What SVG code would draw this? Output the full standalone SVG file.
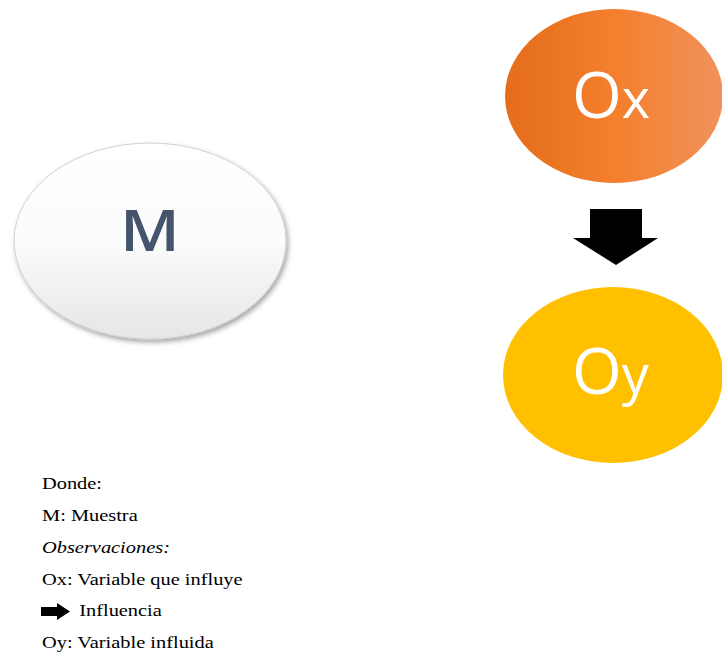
<svg xmlns="http://www.w3.org/2000/svg" width="722" height="652" viewBox="0 0 722 652">
<style>
.big{font-family:"Open Sans","DejaVu Sans",sans-serif}
.leg{font-family:"Liberation Serif","Times New Roman",serif;font-size:17px;fill:#000}
</style>
<defs>
<linearGradient id="gm" x1="0" y1="0" x2="0" y2="1">
<stop offset="0" stop-color="#ffffff"/>
<stop offset="0.5" stop-color="#fbfbfb"/>
<stop offset="1" stop-color="#e6e6e6"/>
</linearGradient>
<linearGradient id="gx" x1="0" y1="0" x2="1" y2="0">
<stop offset="0" stop-color="#e46c1c"/>
<stop offset="0.5" stop-color="#f47f2c"/>
<stop offset="1" stop-color="#f0925c"/>
</linearGradient>
<filter id="sh" x="-10%" y="-10%" width="125%" height="130%">
<feDropShadow dx="2" dy="3" stdDeviation="2.5" flood-color="#000" flood-opacity="0.35"/>
</filter>
</defs>
<g id="node-M">
<ellipse cx="150" cy="241" rx="136" ry="98" fill="url(#gm)" stroke="#d0d0d0" stroke-width="1" filter="url(#sh)"/>
<text class="big" x="150" y="251" font-size="58" font-weight="600" fill="#44546a" text-anchor="middle" transform="translate(150 0) scale(1.12 1) translate(-150 0)">M</text>
</g>
<g id="node-Ox">
<ellipse cx="614" cy="96" rx="109" ry="87" fill="url(#gx)"/>
<text class="big" x="572" y="118" font-size="64" fill="#ffffff">O<tspan font-size="54">x</tspan></text>
</g>
<g id="node-Oy">
<ellipse cx="613" cy="375" rx="110" ry="88" fill="#ffc000"/>
<text class="big" x="572" y="394" font-size="64" fill="#ffffff">O<tspan font-size="54">y</tspan></text>
</g>
<g id="connectors">
<polygon points="590,209 642,209 642,238 658,238 616,265 573,238 590,238" fill="#000"/>
</g>
<g id="legend">
<polygon points="41,607 57,607 57,603 70,611.5 57,620 57,616 41,616" fill="#000"/>
<g transform="scale(1.2 1)">
<text class="leg" x="35" y="489">Donde:</text>
<text class="leg" x="35" y="521">M: Muestra</text>
<text class="leg" x="35" y="553" font-style="italic">Observaciones:</text>
<text class="leg" x="35" y="585">Ox: Variable que influye</text>
<text class="leg" x="66" y="616">Influencia</text>
<text class="leg" x="35" y="648">Oy: Variable influida</text>
</g>
</g>
</svg>
